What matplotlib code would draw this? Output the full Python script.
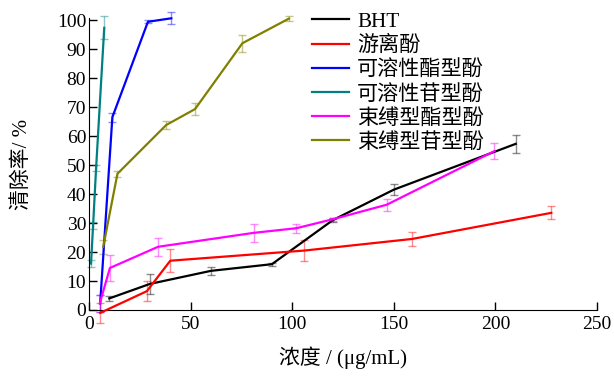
import matplotlib
matplotlib.use("Agg")
import matplotlib.pyplot as plt

plt.rcParams['font.family'] = ['Liberation Serif', 'Noto Sans CJK SC']
plt.rcParams['mathtext.fontset'] = 'stix'

labels = ['BHT', '游离酚', '可溶性酯型酚', '可溶性苷型酚', '束缚型酯型酚', '束缚型苷型酚']
colors = ['#000000', '#ff0000', '#0000ff', '#008080', '#ff00ff', '#808000']

bht_x = [10, 30, 60, 90, 120, 150, 210]
bht_y = [4, 9, 13.5, 15.8, 31, 41.5, 57.3]
bht_e = [0.8, 3.5, 1.5, 0.5, 0.6, 1.8, 3]

free_x = [5.5, 28.5, 40, 106, 159, 227.5]
free_y = [-1, 6.5, 17, 20.5, 24.5, 33.5]
free_e = [3.5, 3.5, 4, 3.5, 2.5, 2.2]

sol_ester_x = [5.5, 11.5, 29, 40.5]
sol_ester_y = [2.3, 66.5, 99.4, 100.6]
sol_ester_e = [3, 1.5, 0.5, 2]

sol_gly_x = [1, 2, 3.5, 7.5]
sol_gly_y = [16, 29, 49, 97.3]
sol_gly_e = [1.2, 1.2, 1, 4]

bnd_ester_x = [5.3, 10.3, 34, 81, 102, 120, 146.5, 199.5]
bnd_ester_y = [2.3, 14.5, 21.8, 26.6, 28.2, 31.3, 36.3, 54.8]
bnd_ester_e = [3, 4.5, 3.2, 3, 1.5, 0.5, 2, 2.8]

bnd_gly_x = [7, 14, 38, 52.2, 75.5, 98.4]
bnd_gly_y = [21.8, 47, 63.8, 69.3, 92, 100.5]
bnd_gly_e = [2.5, 1, 1.5, 2, 3, 1]

xs = [bht_x, free_x, sol_ester_x, sol_gly_x, bnd_ester_x, bnd_gly_x]
ys = [bht_y, free_y, sol_ester_y, sol_gly_y, bnd_ester_y, bnd_gly_y]
es = [bht_e, free_e, sol_ester_e, sol_gly_e, bnd_ester_e, bnd_gly_e]

fig = plt.figure(figsize=(6.14, 3.76), dpi=100)
ax = fig.add_axes([89/614, 1-310/376, (597-89)/614, (310-18)/376])

handles = []
for x, y, e, c, lab in zip(xs, ys, es, colors, labels):
    ax.errorbar(x, y, yerr=e, fmt='none', ecolor=c, alpha=0.45,
                elinewidth=1.0, capsize=3, capthick=1.0, clip_on=False, zorder=2)
    h, = ax.plot(x, y, color=c, lw=1.6, clip_on=False, zorder=3, label=lab)
    handles.append(h)

ax.set_xlim(0, 250)
ax.set_ylim(0, 100.7)
ax.set_xticks([0, 50, 100, 150, 200, 250])
ax.set_yticks(range(0, 101, 10))
ax.spines['top'].set_visible(False)
ax.spines['right'].set_visible(False)
ax.tick_params(direction='in', length=6, width=1, labelsize=14, pad=4)
ax.tick_params(axis='y', pad=2)

ax.set_xlabel('浓度 / (μg/mL)', fontsize=15, labelpad=10)
ax.set_ylabel('清除率/ %', fontsize=15, labelpad=18)

leg = fig.legend(handles=handles, labels=labels, loc='upper left',
                 bbox_to_anchor=(312/614, 1-12/376), frameon=False,
                 fontsize=15.2, handlelength=1.75, handletextpad=0.38,
                 labelspacing=0.2, borderpad=0, borderaxespad=0)

fig.savefig('out.png', dpi=100)
